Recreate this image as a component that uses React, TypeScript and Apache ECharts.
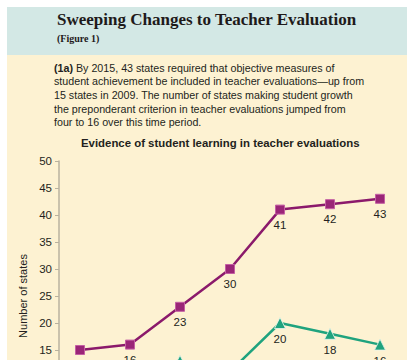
import React, { useEffect, useRef } from "react";
import * as echarts from "echarts";

const years = ["2009", "2010", "2011", "2012", "2013", "2014", "2015"];
const achievementStates = [15, 16, 23, 30, 41, 42, 43];
const growthStates = [4, 8, 13, 11, 20, 18, 16];
const yTicks = { min: 0, max: 50, interval: 5 };

const titleText = "Sweeping Changes to Teacher Evaluation";
const figureText = "(Figure 1)";
const paragraphLines = [
  "By 2015, 43 states required that objective measures of",
  "student achievement be included in teacher evaluations\u2014up from",
  "15 states in 2009. The number of states making student growth",
  "the preponderant criterion in teacher evaluations jumped from",
  "four to 16 over this time period.",
];
const chartTitle = "Evidence of student learning in teacher evaluations";
const yAxisName = "Number of states";

export default function App() {
  const ref = useRef<HTMLDivElement>(null);
  useEffect(() => {
    if (!ref.current) return;
    const chart = echarts.init(ref.current, null, { renderer: "svg" });
    const sans = "Liberation Sans";
    const paraGraphics = paragraphLines.map((line, i) => ({
      type: "text",
      left: 54,
      top: 62 + i * 13.7,
      style: {
        text: i === 0 ? "{b|(1a)} " + line : line,
        font: `10.7px '${sans}'`,
        fill: "#231f20",
        rich: i === 0 ? { b: { fontWeight: "bold", fontSize: 10.7, fontFamily: sans, fill: "#231f20" } } : undefined,
      },
    }));
    chart.setOption({
      animation: false,
      backgroundColor: "#ffffff",
      graphic: [
        { type: "rect", shape: { x: 7, y: 7, width: 400, height: 48 }, style: { fill: "#d3e8e5" }, z: -10 },
        { type: "rect", shape: { x: 7, y: 55, width: 400, height: 420 }, style: { fill: "#fdf2d2" }, z: -10 },
        {
          type: "text",
          left: 57,
          top: 11,
          style: { text: titleText, font: "bold 17px 'Liberation Serif'", fill: "#1e1a1a" },
        },
        {
          type: "text",
          left: 57,
          top: 33,
          style: { text: figureText, font: "bold 10px 'Liberation Serif'", fill: "#1e1a1a" },
        },
        ...paraGraphics,
        {
          type: "text",
          left: 81,
          top: 137,
          style: { text: chartTitle, font: `bold 11.4px '${sans}'`, fill: "#231f20" },
        },
      ],
      grid: { left: 80, right: 35, top: 161, bottom: 29, containLabel: false },
      xAxis: {
        type: "category",
        data: years,
        boundaryGap: false,
        show: false,
      },
      yAxis: {
        type: "value",
        min: yTicks.min,
        max: yTicks.max,
        interval: yTicks.interval,
        offset: 21,
        name: yAxisName,
        nameLocation: "middle",
        nameGap: 28,
        nameTextStyle: { fontFamily: sans, fontSize: 11, color: "#231f20" },
        axisLine: { show: true, lineStyle: { color: "#b9b29f", width: 1.5 } },
        axisTick: { show: true, length: 4, lineStyle: { color: "#b9b29f" } },
        axisLabel: { fontFamily: sans, fontSize: 11.5, color: "#231f20", margin: 7 },
        splitLine: { show: false },
      },
      series: [
        {
          type: "line",
          data: achievementStates,
          symbol: "rect",
          symbolSize: 9,
          itemStyle: { color: "#9a2677", borderColor: "#c45ea3", borderWidth: 1 },
          lineStyle: { color: "#8b1a6b", width: 2.5 },
          label: { show: true, position: "bottom", distance: 4, fontFamily: sans, fontSize: 11.5, color: "#231f20" },
        },
        {
          type: "line",
          data: growthStates,
          symbol: "triangle",
          symbolSize: 11,
          itemStyle: { color: "#1fa37e", borderColor: "#e9f5ee", borderWidth: 0.8 },
          lineStyle: { color: "#1fa37e", width: 2.5 },
          label: { show: true, position: "bottom", distance: 4, fontFamily: sans, fontSize: 11.5, color: "#231f20" },
        },
      ],
    });
    return () => chart.dispose();
  }, []);
  return (
    <div style={{ position: "fixed", left: 0, top: 0, width: 415, height: 360, overflow: "hidden" }}>
      <div ref={ref} style={{ width: 415, height: 460 }} />
    </div>
  );
}
